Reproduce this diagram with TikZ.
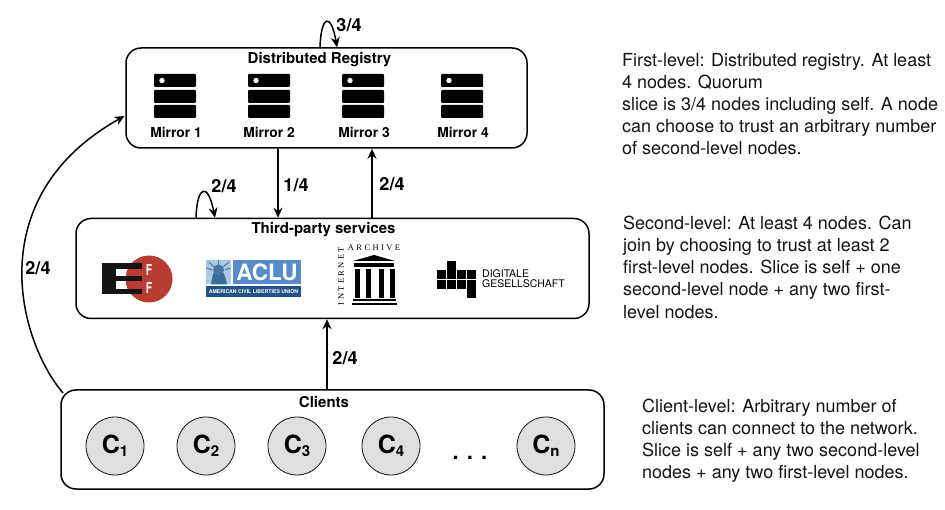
\documentclass[tikz,border=0pt]{standalone}
\usepackage{fontspec}
\setmainfont{TeX Gyre Heros}
\newfontfamily\iafont{Liberation Serif}
\usetikzlibrary{arrows.meta,calc}
\definecolor{eredc}{RGB}{184,60,50}
\definecolor{ablue}{RGB}{88,140,200}
\definecolor{adark}{RGB}{32,84,136}
\definecolor{alight}{RGB}{170,200,228}
\definecolor{cgray}{RGB}{222,223,225}
\definecolor{ink}{RGB}{20,20,20}
\tikzset{
  levelbox/.style={draw=black,line width=1.5pt,rounded corners=15pt,fill=white,inner sep=0pt},
  clientnode/.style={circle,draw=ink,line width=0.8pt,fill=cgray,minimum size=58pt,inner sep=0pt,font=\fontsize{25}{25}\selectfont\bfseries},
  heading/.style={font=\fontsize{15}{15}\selectfont\bfseries,inner sep=0pt},
  mirror/.style={font=\fontsize{13.8}{14}\selectfont\bfseries,inner sep=0pt},
  weight/.style={font=\fontsize{18}{18}\selectfont\bfseries,inner sep=0pt},
  para/.style={anchor=north west,align=left,inner sep=0pt,font=\fontsize{18}{22.1}\selectfont,text=ink},
  conn/.style={line width=1.5pt,-{Stealth[length=10pt,width=9pt]}},
  serverbar/.style={fill=black,rounded corners=1pt},
  iatext/.style={inner sep=0pt,font=\fontsize{8.5}{9}\selectfont\iafont},
  efff/.style={inner sep=0pt,text=white,font=\fontsize{15}{15}\selectfont\bfseries}
}
\newcommand{\serverat}[1]{%
  \fill[serverbar] (#1-21,74) rectangle (#1+21,87);
  \fill[serverbar] (#1-21,90) rectangle (#1+21,103);
  \fill[serverbar] (#1-21,105) rectangle (#1+21,118);
  \fill[white] (#1-13,80.5) circle (2.7);
}
\newcommand{\csub}[1]{\raisebox{-3pt}{\fontsize{15}{15}\selectfont #1}}
\begin{document}
\begin{tikzpicture}[x=1pt,y=-1pt]
\useasboundingbox (0,0) rectangle (945,510);
% boxes
\node[levelbox,minimum width=401pt,minimum height=100pt] (reg) at (326.5,98) {};
\node[levelbox,minimum width=513pt,minimum height=100pt] (third) at (332.5,268.5) {};
\node[levelbox,minimum width=543pt,minimum height=99pt] (clients) at (332.5,439.5) {};
\node[heading] (regt) at (319.5,60) {Distributed Registry};
\node[heading] (thirdt) at (323.5,230) {Third-party services};
\node[heading] (clientst) at (324,402) {Clients};
% servers
\serverat{175}\serverat{269}\serverat{363}\serverat{462}
\node[mirror] (m1) at (176,132) {Mirror 1};
\node[mirror] (m2) at (269,132) {Mirror 2};
\node[mirror] (m3) at (364,132) {Mirror 3};
\node[mirror] (m4) at (463,132) {Mirror 4};
% EFF logo
\fill[eredc] (149,279) circle (23.5);
\fill[ink] (102,263) rectangle (142,269);
\fill[ink] (102,276.5) rectangle (142,281);
\fill[ink] (102,289.5) rectangle (142,294.5);
\fill[white] (116,269) rectangle (125.8,276.5);
\fill[white] (116,281) rectangle (125.8,289.5);
\fill[ink] (102,263) rectangle (116,294.5);
\node[efff] (eff1) at (149,270) {\scalebox{0.7}[1]{F}};
\node[efff] (eff2) at (149,288) {\scalebox{0.7}[1]{F}};
% ACLU logo
\fill[alight] (206,260) rectangle (231,284.5);
\fill[adark!80!alight] (218.5,284.5) -- (211,284.5) .. controls (212,278) and (213,274) .. (214,272) -- (223,272) .. controls (224,274) and (226,278) .. (227,284.5) -- cycle;
\fill[adark!70!alight] (218.5,270) circle (5.5);
\draw[adark!70!alight,line width=1pt] (218.5,266) -- (218.5,260.5) (214,267) -- (209,262) (223,267) -- (229,262) (212,270) -- (206.5,268) (225,270) -- (230.5,268);
\fill[ablue] (233,260) rectangle (301,284.5);
\node[inner sep=0pt,text=white,font=\fontsize{22.5}{23}\selectfont\bfseries] (aclu) at (267,272.5) {ACLU};
\fill[adark] (206,286) rectangle (301,297);
\node[inner sep=0pt,text=white,font=\fontsize{5.2}{6}\selectfont\bfseries] (aclus) at (253.5,291.5) {AMERICAN CIVIL LIBERTIES UNION};
% Internet Archive
\node[iatext] (iaa) at (374,248) {A\hspace{2.4pt}R\hspace{2.4pt}C\hspace{2.4pt}H\hspace{2.4pt}I\hspace{2.4pt}V\hspace{2.4pt}E};
\node[iatext,rotate=90] (iai) at (341,276) {I\hspace{2.4pt}N\hspace{2.4pt}T\hspace{2.4pt}E\hspace{2.4pt}R\hspace{2.4pt}N\hspace{2.4pt}E\hspace{2.4pt}T};
\fill[black] (374,255) -- (395,261) -- (353,261) -- cycle;
\fill[black] (354,263) rectangle (394,267);
\fill[black] (355,269) rectangle (360,298);
\fill[black] (366,269) rectangle (371,298);
\fill[black] (379,269) rectangle (384,298);
\fill[black] (390,269) rectangle (395,298);
\fill[black] (353,299) rectangle (396,301.5);
\fill[black] (352,303) rectangle (397,305.5);
% Digitale Gesellschaft
\foreach \cx/\cy in {1/0,0/1,1/1,2/1,3/1,0/2,1/2,2/2,3/2,3/3}{
  \fill[black] (436.7+\cx*10.1,260.7+\cy*9.5) rectangle ++(9.3,8.9);
}
\node[anchor=west,align=left,inner sep=0pt,font=\fontsize{10.5}{10}\selectfont] (dg) at (482,279) {DIGITALE\\GESELLSCHAFT};
% clients
\node[clientnode] (c1) at (115,446) {C\csub{1}};
\node[clientnode] (c2) at (206,446) {C\csub{2}};
\node[clientnode] (c3) at (297,446) {C\csub{3}};
\node[clientnode] (c4) at (391,446) {C\csub{4}};
\node[clientnode] (cn) at (546,446) {C\csub{n}};
\node[anchor=base,font=\fontsize{22}{22}\selectfont\bfseries,inner sep=0pt] (dots) at (470,459) {. . .};
% connector anchors
\coordinate (xa) at (320,0); \coordinate (xb) at (337,0);
\coordinate (xc) at (196,0); \coordinate (xd) at (215,0);
\coordinate (xe) at (278,0); \coordinate (xf) at (372,0); \coordinate (xg) at (327,0);
\coordinate (cs) at (63,393); \coordinate (ce) at (124.5,116);
% connectors
\draw[conn] (reg.north -| xa) .. controls (321,15) and (331,12) .. (reg.north -| xb);
\draw[conn] (third.north -| xc) .. controls (197,185) and (208,182) .. (third.north -| xd);
\draw[conn] (reg.south -| xe) -- (third.north -| xe);
\draw[conn] (third.north -| xf) -- (reg.south -| xf);
\draw[conn] (clients.north -| xg) -- (third.south -| xg);
\draw[conn] (cs) .. controls (18,340) and (-20,197) .. (ce);
% weights
\node[weight] (w34) at (349,25) {3/4};
\node[weight] (w24a) at (224,186) {2/4};
\node[weight] (w14) at (296,185) {1/4};
\node[weight] (w24b) at (392,184) {2/4};
\node[weight] (w24c) at (345,358) {2/4};
\node[weight] (w24d) at (38,268) {2/4};
% descriptions
\node[para] (p1) at (622,53) {First-level: Distributed registry. At least\\4 nodes. Quorum\\slice is 3/4 nodes including self. A node\\can choose to trust an arbitrary number\\of second-level nodes.};
\node[para] (p2) at (623,216) {Second-level: At least 4 nodes. Can\\join by choosing to trust at least 2\\first-level nodes. Slice is self + one\\second-level node + any two first-\\level nodes.};
\node[para] (p3) at (642,399) {Client-level: Arbitrary number of\\clients can connect to the network.\\Slice is self + any two second-level\\nodes + any two first-level nodes.};
\end{tikzpicture}
\end{document}
